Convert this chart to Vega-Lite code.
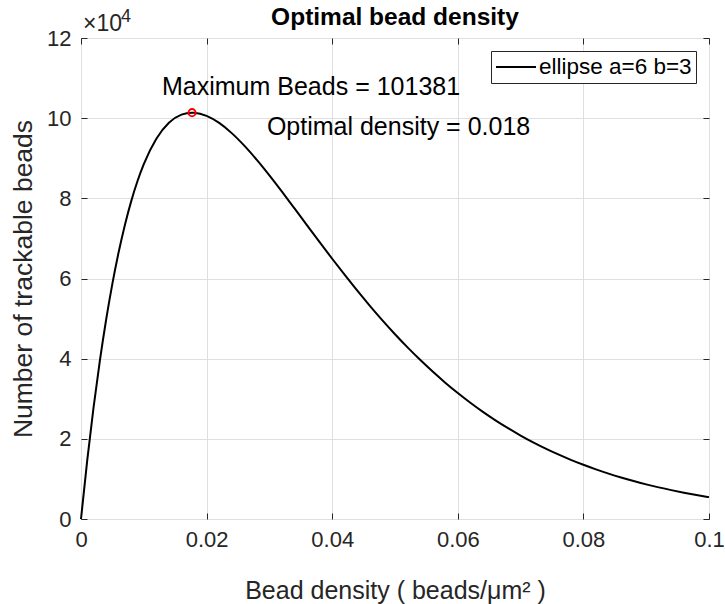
{
  "$schema": "https://vega.github.io/schema/vega-lite/v6.json",
  "width": 628,
  "height": 481,
  "autosize": {"type": "none"},
  "padding": {"left": 81, "top": 38, "right": 16, "bottom": 85},
  "background": "white",
  "config": {
    "font": "Liberation Sans",
    "view": {"stroke": "#262626", "strokeWidth": 1},
    "axis": {"domainColor": "#262626", "tickColor": "#262626", "labelColor": "#262626", "titleColor": "#262626", "gridColor": "#dfdfdf", "labelFont": "Liberation Sans", "titleFont": "Liberation Sans", "titleFontWeight": "normal", "labelFlush": false}
  },
  "datasets": {
    "curve": [
      {"rho": 0, "n": 0, "series": "ellipse a=6 b=3"},
      {"rho": 0.001, "n": 14727, "series": "ellipse a=6 b=3"},
      {"rho": 0.002, "n": 27835, "series": "ellipse a=6 b=3"},
      {"rho": 0.003, "n": 39457, "series": "ellipse a=6 b=3"},
      {"rho": 0.004, "n": 49716, "series": "ellipse a=6 b=3"},
      {"rho": 0.005, "n": 58729, "series": "ellipse a=6 b=3"},
      {"rho": 0.006, "n": 66600, "series": "ellipse a=6 b=3"},
      {"rho": 0.007, "n": 73428, "series": "ellipse a=6 b=3"},
      {"rho": 0.008, "n": 79303, "series": "ellipse a=6 b=3"},
      {"rho": 0.009, "n": 84311, "series": "ellipse a=6 b=3"},
      {"rho": 0.010, "n": 88528, "series": "ellipse a=6 b=3"},
      {"rho": 0.012, "n": 94874, "series": "ellipse a=6 b=3"},
      {"rho": 0.014, "n": 98851, "series": "ellipse a=6 b=3"},
      {"rho": 0.016, "n": 100894, "series": "ellipse a=6 b=3"},
      {"rho": 0.017684, "n": 101381, "series": "ellipse a=6 b=3"},
      {"rho": 0.018, "n": 101366, "series": "ellipse a=6 b=3"},
      {"rho": 0.020, "n": 100584, "series": "ellipse a=6 b=3"},
      {"rho": 0.022, "n": 98811, "series": "ellipse a=6 b=3"},
      {"rho": 0.024, "n": 96267, "series": "ellipse a=6 b=3"},
      {"rho": 0.026, "n": 93137, "series": "ellipse a=6 b=3"},
      {"rho": 0.028, "n": 89576, "series": "ellipse a=6 b=3"},
      {"rho": 0.030, "n": 85712, "series": "ellipse a=6 b=3"},
      {"rho": 0.032, "n": 81649, "series": "ellipse a=6 b=3"},
      {"rho": 0.034, "n": 77476, "series": "ellipse a=6 b=3"},
      {"rho": 0.036, "n": 73261, "series": "ellipse a=6 b=3"},
      {"rho": 0.038, "n": 69062, "series": "ellipse a=6 b=3"},
      {"rho": 0.040, "n": 64923, "series": "ellipse a=6 b=3"},
      {"rho": 0.042, "n": 60880, "series": "ellipse a=6 b=3"},
      {"rho": 0.044, "n": 56958, "series": "ellipse a=6 b=3"},
      {"rho": 0.046, "n": 53180, "series": "ellipse a=6 b=3"},
      {"rho": 0.048, "n": 49558, "series": "ellipse a=6 b=3"},
      {"rho": 0.050, "n": 46103, "series": "ellipse a=6 b=3"},
      {"rho": 0.052, "n": 42820, "series": "ellipse a=6 b=3"},
      {"rho": 0.054, "n": 39712, "series": "ellipse a=6 b=3"},
      {"rho": 0.056, "n": 36779, "series": "ellipse a=6 b=3"},
      {"rho": 0.058, "n": 34019, "series": "ellipse a=6 b=3"},
      {"rho": 0.060, "n": 31428, "series": "ellipse a=6 b=3"},
      {"rho": 0.062, "n": 29004, "series": "ellipse a=6 b=3"},
      {"rho": 0.064, "n": 26737, "series": "ellipse a=6 b=3"},
      {"rho": 0.066, "n": 24624, "series": "ellipse a=6 b=3"},
      {"rho": 0.068, "n": 22658, "series": "ellipse a=6 b=3"},
      {"rho": 0.070, "n": 20830, "series": "ellipse a=6 b=3"},
      {"rho": 0.072, "n": 19134, "series": "ellipse a=6 b=3"},
      {"rho": 0.074, "n": 17563, "series": "ellipse a=6 b=3"},
      {"rho": 0.076, "n": 16108, "series": "ellipse a=6 b=3"},
      {"rho": 0.078, "n": 14764, "series": "ellipse a=6 b=3"},
      {"rho": 0.080, "n": 13523, "series": "ellipse a=6 b=3"},
      {"rho": 0.082, "n": 12379, "series": "ellipse a=6 b=3"},
      {"rho": 0.084, "n": 11325, "series": "ellipse a=6 b=3"},
      {"rho": 0.086, "n": 10355, "series": "ellipse a=6 b=3"},
      {"rho": 0.088, "n": 9463, "series": "ellipse a=6 b=3"},
      {"rho": 0.090, "n": 8643, "series": "ellipse a=6 b=3"},
      {"rho": 0.092, "n": 7890, "series": "ellipse a=6 b=3"},
      {"rho": 0.094, "n": 7200, "series": "ellipse a=6 b=3"},
      {"rho": 0.096, "n": 6566, "series": "ellipse a=6 b=3"},
      {"rho": 0.098, "n": 5987, "series": "ellipse a=6 b=3"},
      {"rho": 0.100, "n": 5456, "series": "ellipse a=6 b=3"}
    ],
    "peak": [{"rho": 0.017684, "n": 101381}],
    "notes": [
      {"rho": 0.0129, "n": 105780, "label": "Maximum Beads = 101381"},
      {"rho": 0.0296, "n": 95800, "label": "Optimal density = 0.018"}
    ],
    "corner": [{"rho": 0, "n": 120000}],
    "heading": [{"rho": 0.05, "n": 120000, "label": "Optimal bead density"}]
  },
  "resolve": {"axis": {"x": "independent", "y": "independent"}},
  "layer": [
    {
      "data": {"name": "curve"},
      "mark": {"type": "line", "strokeWidth": 2, "interpolate": "monotone"},
      "encoding": {
        "x": {"field": "rho", "type": "quantitative", "scale": {"domain": [0, 0.1], "nice": false, "zero": true},
          "title": "Bead density ( beads/μm² )",
          "axis": {"values": [0, 0.02, 0.04, 0.06, 0.08, 0.1], "format": "~g", "labelFontSize": 22, "titleFontSize": 25, "tickSize": -6, "labelPadding": 16, "titlePadding": 28, "grid": true, "domain": false}},
        "y": {"field": "n", "type": "quantitative", "scale": {"domain": [0, 120000], "nice": false},
          "title": "Number of trackable beads",
          "axis": {"values": [0, 20000, 40000, 60000, 80000, 100000, 120000], "labelExpr": "datum.value / 10000", "labelFontSize": 22, "titleFontSize": 26.5, "tickSize": -6, "labelPadding": 16, "titlePadding": 9, "grid": true, "domain": false}},
        "color": {"field": "series", "type": "nominal", "scale": {"range": ["#000000"]},
          "legend": {"title": null, "orient": "top-right", "offset": 13, "strokeColor": "#262626", "fillColor": "#ffffff", "padding": 4, "clipHeight": 24, "labelFontSize": 22.5, "labelColor": "#000000", "labelFont": "Liberation Sans", "symbolType": "stroke", "symbolSize": 1600, "symbolStrokeWidth": 2, "symbolStrokeColor": "#000000", "labelOffset": 2}}
      }
    },
    {
      "data": {"name": "peak"},
      "mark": {"type": "point", "shape": "circle", "filled": false, "color": "#ff0000", "strokeWidth": 2, "size": 50, "opacity": 1},
      "encoding": {
        "x": {"field": "rho", "type": "quantitative", "axis": {"orient": "top", "labels": false, "title": null, "grid": false, "domain": false, "tickSize": -6, "values": [0, 0.02, 0.04, 0.06, 0.08, 0.1]}},
        "y": {"field": "n", "type": "quantitative", "axis": {"orient": "right", "labels": false, "title": null, "grid": false, "domain": false, "tickSize": -6, "values": [0, 20000, 40000, 60000, 80000, 100000, 120000]}}
      }
    },
    {
      "data": {"name": "notes"},
      "mark": {"type": "text", "align": "left", "baseline": "alphabetic", "fontSize": 25, "color": "#000000", "font": "Liberation Sans"},
      "encoding": {
        "x": {"field": "rho", "type": "quantitative", "axis": null},
        "y": {"field": "n", "type": "quantitative", "axis": null},
        "text": {"field": "label"}
      }
    },
    {
      "data": {"name": "heading"},
      "mark": {"type": "text", "align": "center", "baseline": "alphabetic", "fontSize": 24.5, "fontWeight": "bold", "color": "#000000", "dy": -13, "font": "Liberation Sans"},
      "encoding": {
        "x": {"field": "rho", "type": "quantitative", "axis": null},
        "y": {"field": "n", "type": "quantitative", "axis": null},
        "text": {"field": "label"}
      }
    },
    {
      "data": {"name": "corner"},
      "mark": {"type": "text", "align": "left", "baseline": "alphabetic", "fontSize": 23, "color": "#262626", "dx": 2, "dy": -7, "font": "Liberation Sans"},
      "encoding": {
        "x": {"field": "rho", "type": "quantitative", "axis": null},
        "y": {"field": "n", "type": "quantitative", "axis": null},
        "text": {"value": "×10"}
      }
    },
    {
      "data": {"name": "corner"},
      "mark": {"type": "text", "align": "left", "baseline": "alphabetic", "fontSize": 18, "color": "#262626", "dx": 40, "dy": -16, "font": "Liberation Sans"},
      "encoding": {
        "x": {"field": "rho", "type": "quantitative", "axis": null},
        "y": {"field": "n", "type": "quantitative", "axis": null},
        "text": {"value": "4"}
      }
    }
  ]
}
